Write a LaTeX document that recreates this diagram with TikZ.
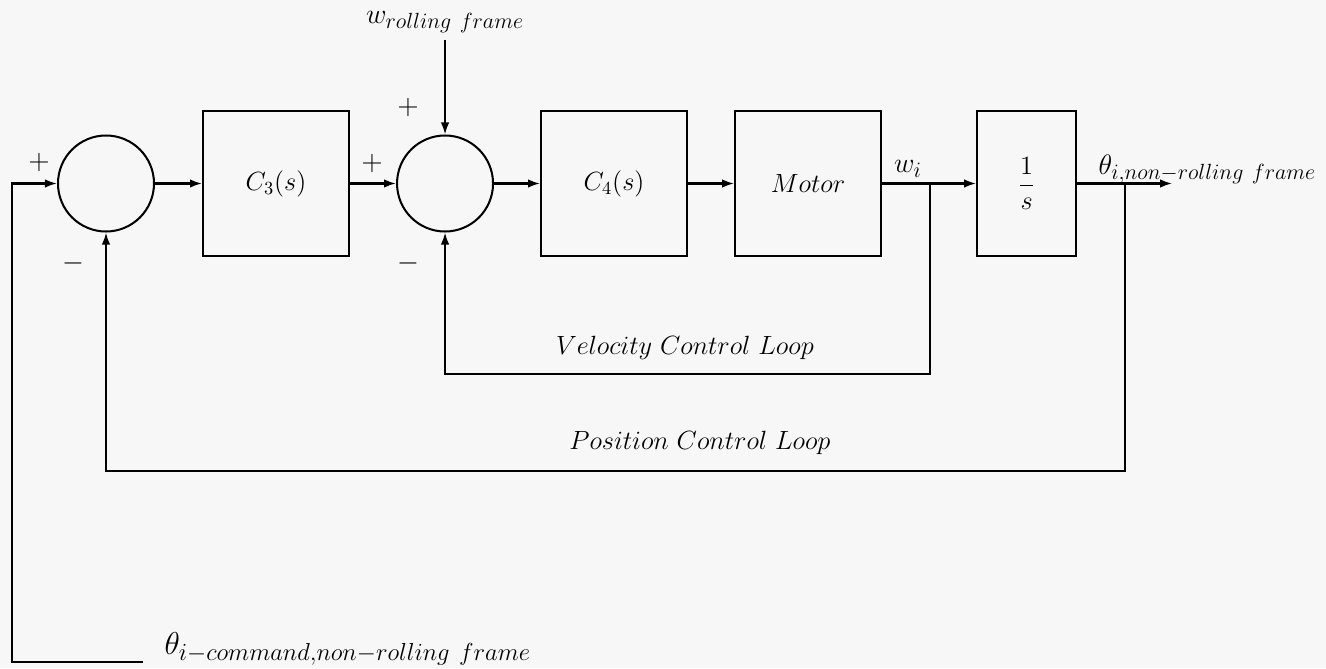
\documentclass[tikz,border=0pt]{standalone}
\usepackage{fix-cm}
\usepackage{amsmath}
\usetikzlibrary{arrows.meta,positioning,calc}

\DeclareMathSizes{16}{16}{12.5}{9}
\DeclareMathSizes{18}{18}{14}{10}
\definecolor{bgpaper}{RGB}{247,247,247}

\begin{document}
\begin{tikzpicture}[
    font=\fontsize{15}{18}\selectfont,
    node distance=0.92cm,
    line width=1.15pt,
    block/.style={
        draw,
        minimum width=2.92cm,
        minimum height=2.9cm,
        inner sep=0pt
    },
    sumnode/.style={
        draw,
        circle,
        minimum size=1.92cm,
        inner sep=0pt
    },
    sig/.style={font=\fontsize{16}{19}\selectfont, inner sep=2pt},
    sgn/.style={font=\fontsize{16}{18}\selectfont, inner sep=0pt},
    arr/.style={-{Latex[length=2.4mm, width=1.7mm]}}
]
    \fill[bgpaper] (0,0) rectangle (26.52,-13.36);
    \useasboundingbox (0,0) rectangle (26.52,-13.36);

    %% Summierstellen und Bloecke
    \node[sumnode] (sum1) at (2.12,-3.67) {};
    \node[block, right=0.94cm of sum1] (ctrlpos) {$C_3(s)$};
    \node[sumnode, right=of ctrlpos] (sum2) {};
    \node[block, right=of sum2] (ctrlvel) {$C_4(s)$};
    \node[block, right=of ctrlvel] (motor) {$Motor$};
    \node[block, minimum width=1.98cm, right=1.88cm of motor] (integ) {$\dfrac{1}{s}$};

    %% Abgriffe
    \coordinate[right=0.96cm of motor] (wtap);
    \coordinate[right=0.96cm of integ] (thtap);
    \coordinate[right=1.9cm of integ] (outend);
    \coordinate (cmdend) at (2.86,-13.24);

    %% Signale
    \node[sig, anchor=base] (wi) at (18.16,-3.45) {$w_i$};
    \node[sig, anchor=base west] (thout) at (21.88,-3.48) {$\theta_{i,non-rolling\ frame}$};
    \node[sig, above=1.94cm of sum2] (wroll) {$w_{rolling\ frame}$};
    \node[sig, font=\fontsize{18}{21}\selectfont, anchor=base west] (thcmd) at (3.2,-13.08) {$\theta_{i-command,non-rolling\ frame}$};

    %% Vorzeichen
    \node[sgn] (s1plus) at (0.78,-3.24) {$+$};
    \node[sgn] (s1minus) at (1.46,-5.26) {$-$};
    \node[sgn] (s2plusl) at (7.44,-3.26) {$+$};
    \node[sgn] (s2plust) at (8.16,-2.14) {$+$};
    \node[sgn] (s2minus) at (8.16,-5.26) {$-$};

    %% Schleifen
    \node (vloop) at (13.7,-6.96) {$Velocity\ Control\ Loop$};
    \node (ploop) at (14.0,-8.86) {$Position\ Control\ Loop$};

    %% Pfeile
    \draw[arr] (sum1) -- (ctrlpos);
    \draw[arr] (ctrlpos) -- (sum2);
    \draw[arr] (sum2) -- (ctrlvel);
    \draw[arr] (ctrlvel) -- (motor);
    \draw[arr] (motor) -- (integ);
    \draw[arr] (integ) -- (outend);
    \draw[arr, shorten <=0.05cm] (wroll) -- (sum2);
    \draw[arr] (wtap) -- ++(0,-3.81) -| (sum2.south);
    \draw[arr] (thtap) -- ++(0,-5.75) -| (sum1.south);
    \draw[arr] (cmdend) -- ++(-2.62,0) |- (sum1.west);
\end{tikzpicture}
\end{document}
